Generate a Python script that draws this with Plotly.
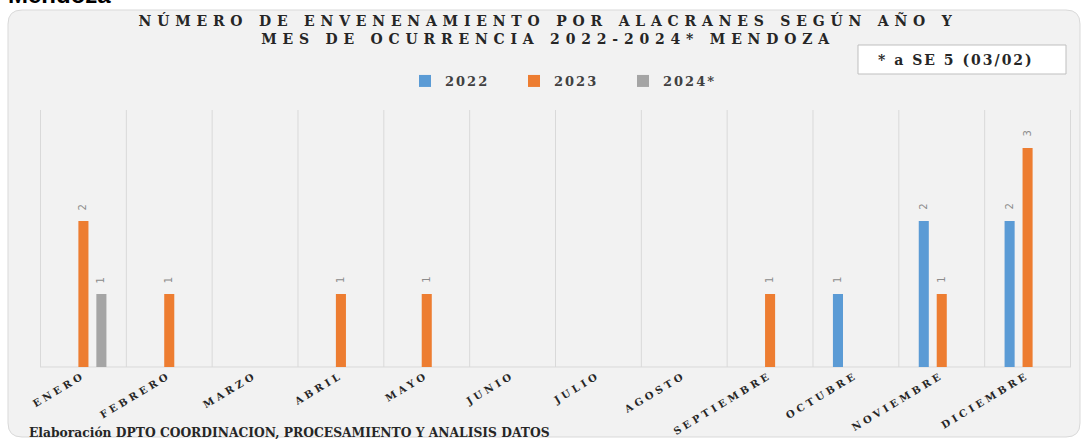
import plotly.graph_objects as go

months = ["ENERO", "FEBRERO", "MARZO", "ABRIL", "MAYO", "JUNIO", "JULIO",
          "AGOSTO", "SEPTIEMBRE", "OCTUBRE", "NOVIEMBRE", "DICIEMBRE"]
series_names = ["2022", "2023", "2024*"]
v2022 = [None, None, None, None, None, None, None, None, None, 1, 2, 2]
v2023 = [2, 1, None, 1, 1, None, None, None, 1, None, 1, 3]
v2024 = [1, None, None, None, None, None, None, None, None, None, None, None]
colors = ["#5b9bd5", "#ed7d31", "#a5a5a5"]

title_text = "NÚMERO DE ENVENENAMIENTO POR ALACRANES SEGÚN AÑO Y<br>MES DE OCURRENCIA 2022-2024* MENDOZA"
note_text = "* a SE 5 (03/02)"
footer_text = "Elaboración DPTO COORDINACION, PROCESAMIENTO Y ANALISIS DATOS"
corner_text = "Mendoza"

W, H = 1086, 439
L, R, T, B = 40, 15, 110, 72
PW, PH = W - L - R, H - T - B


def fx(p):
    return (p - L) / PW


def fy(p):
    return (H - B - p) / PH


SERIF = "DejaVu Serif"
BARGAP = 0.372
SLOT = (PW / len(months)) * (1 - BARGAP) / len(series_names)

fig = go.Figure()
annotations = []
for k, (name, vals, col) in enumerate(zip(series_names, [v2022, v2023, v2024], colors)):
    fig.add_trace(go.Bar(
        name=name, x=months, y=vals, marker=dict(color=col, line=dict(width=0)),
        cliponaxis=False,
    ))
    for m, v in zip(months, vals):
        if v is None:
            continue
        annotations.append(dict(
            text=str(v), x=m, y=v, xref="x", yref="y", showarrow=False,
            xshift=(k - 1) * SLOT, yshift=14, textangle=-90,
            xanchor="center", yanchor="middle",
            font=dict(family="DejaVu Sans", size=10, color="#8c8c8c")))

# panel rounded rectangle
x0, x1 = fx(8), fx(1080)
y0, y1 = fy(437), fy(10)
rx, ry = 14 / PW, 14 / PH
panel = (f"M {x0+rx},{y1} L {x1-rx},{y1} Q {x1},{y1} {x1},{y1-ry} "
         f"L {x1},{y0+ry} Q {x1},{y0} {x1-rx},{y0} L {x0+rx},{y0} "
         f"Q {x0},{y0} {x0},{y0+ry} L {x0},{y1-ry} Q {x0},{y1} {x0+rx},{y1} Z")
shapes = [dict(type="path", path=panel, xref="paper", yref="paper",
               fillcolor="#f2f2f2", line=dict(color="#d9d9d9", width=1), layer="below")]
for i in range(len(months) + 1):
    shapes.append(dict(type="line", xref="x", yref="paper", x0=i - 0.5, x1=i - 0.5,
                       y0=0, y1=1, line=dict(color="#d9d9d9", width=1), layer="below"))
shapes.append(dict(type="line", xref="paper", yref="paper", x0=0, x1=1, y0=0, y1=0,
                   line=dict(color="#d9d9d9", width=1), layer="below"))
shapes.append(dict(type="rect", xref="paper", yref="paper", x0=fx(858), x1=fx(1066),
                   y0=fy(74), y1=fy(45), fillcolor="#ffffff",
                   line=dict(color="#bfbfbf", width=1), layer="below"))

annotations += [
    dict(text=note_text, xref="paper", yref="paper", x=fx(956), y=fy(60),
         xanchor="center", yanchor="middle", showarrow=False,
         font=dict(family=SERIF, size=14, color="#262626", weight="bold")),
    dict(text=footer_text, xref="paper", yref="paper", x=fx(27), y=fy(432),
         xanchor="left", yanchor="middle", showarrow=False,
         font=dict(family=SERIF, size=12.3, color="#262626", weight="bold")),
    dict(text=corner_text, xref="paper", yref="paper", x=fx(6), y=fy(10),
         xanchor="left", yanchor="bottom", showarrow=False,
         font=dict(family="Liberation Sans", size=24, color="#000000", weight="bold")),
]

fig.update_layout(
    width=W, height=H, margin=dict(l=L, r=R, t=T, b=B, autoexpand=False),
    paper_bgcolor="#ffffff", plot_bgcolor="rgba(0,0,0,0)",
    barmode="group", bargap=BARGAP, bargroupgap=0.44,
    title=dict(text=title_text, x=548 / W, xanchor="center", y=1 - 26 / H, yanchor="top",
               xref="container", yref="container",
               font=dict(family=SERIF, size=14, color="#262626", weight="bold")),
    legend=dict(orientation="h", x=fx(405), xanchor="left", y=fy(81), yanchor="middle",
                bgcolor="rgba(0,0,0,0)", entrywidth=64, entrywidthmode="pixels",
                font=dict(family=SERIF, size=13, color="#404040", weight="bold")),
    xaxis=dict(type="category", showgrid=False, showline=False, zeroline=False,
               ticks="", tickangle=-31,
               tickfont=dict(family=SERIF, size=10, color="#262626", weight="bold")),
    yaxis=dict(visible=False, range=[0, 3.52], showgrid=False, zeroline=False),
    shapes=shapes, annotations=annotations, showlegend=True,
)

post = """
var gd = document.getElementById('{plot_id}');
function ls(){
  gd.querySelectorAll('.gtitle').forEach(function(e){e.setAttribute('letter-spacing','5.8px');});
  gd.querySelectorAll('.xtick text').forEach(function(e){e.setAttribute('letter-spacing','3.5px');});
  gd.querySelectorAll('.legendtext').forEach(function(e){e.setAttribute('letter-spacing','2px');});
  gd.querySelectorAll('.annotation-text').forEach(function(e){
    var t = e.textContent;
    if (t.indexOf('SE 5') >= 0) e.setAttribute('letter-spacing','2px');
  });
}
ls();
gd.on('plotly_afterplot', ls);
"""

fig.write_html("out.html", post_script=post)
